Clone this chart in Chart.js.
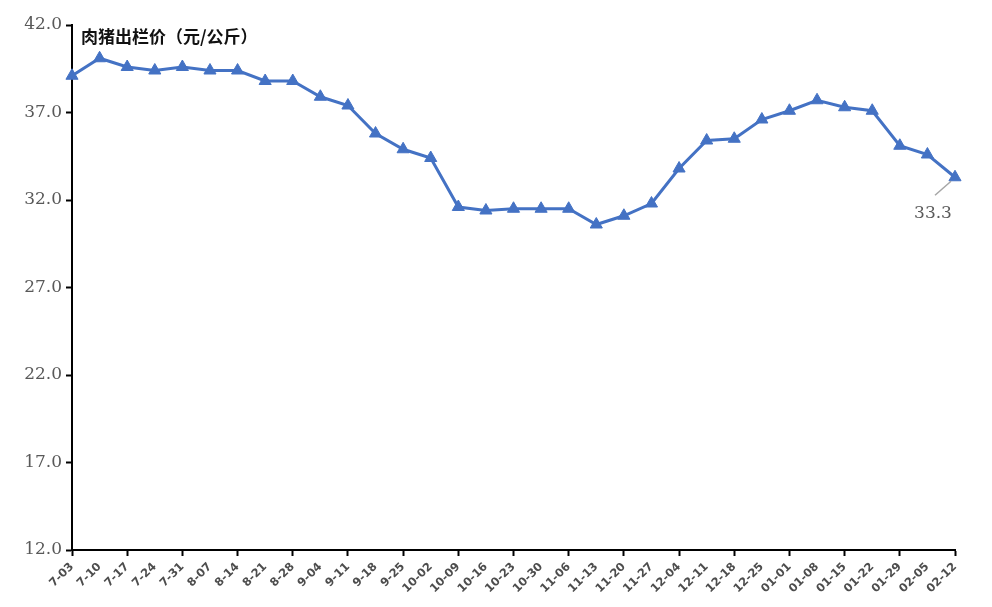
<!DOCTYPE html>
<html>
<head>
<meta charset="utf-8">
<script src="https://cdn.jsdelivr.net/npm/chart.js@4"></script>
<style>
html,body{margin:0;padding:0;background:#fff;}
#wrap{width:992px;height:607px;position:relative;}
</style>
</head>
<body>
<div id="wrap"><canvas id="c" width="992" height="607"></canvas></div>
<script>
const categories = ["7-03","7-10","7-17","7-24","7-31","8-07","8-14","8-21","8-28","9-04","9-11","9-18","9-25","10-02","10-09","10-16","10-23","10-30","11-06","11-13","11-20","11-27","12-04","12-11","12-18","12-25","01-01","01-08","01-15","01-22","01-29","02-05","02-12"];
const prices = [39.1,40.1,39.6,39.4,39.6,39.4,39.4,38.8,38.8,37.9,37.4,35.8,34.9,34.4,31.6,31.4,31.5,31.5,31.5,30.6,31.1,31.8,33.8,35.4,35.5,36.6,37.1,37.7,37.3,37.1,35.1,34.6,33.3];
const chartTitle = "肉猪出栏价（元/公斤）";
const yMin = 12, yMax = 42, yStep = 5;

const overlay = {
  id: 'overlay',
  afterDatasetsDraw(chart) {
    const ctx = chart.ctx;
    const area = chart.chartArea;
    ctx.save();
    ctx.font = 'bold 17px "Noto Sans CJK SC"';
    ctx.fillStyle = '#111';
    ctx.textAlign = 'left';
    ctx.textBaseline = 'middle';
    ctx.fillText(chartTitle, area.left + 9, area.top + 12);
    const meta = chart.getDatasetMeta(0);
    const last = meta.data[meta.data.length - 1];
    const px = last.x, py = last.y;
    ctx.strokeStyle = '#a6a6a6';
    ctx.lineWidth = 1.5;
    ctx.beginPath();
    ctx.moveTo(px - 4, py + 4);
    ctx.lineTo(px - 20, py + 18);
    ctx.stroke();
    ctx.font = '17px "DejaVu Serif"';
    ctx.fillStyle = '#595959';
    ctx.textAlign = 'center';
    ctx.fillText(prices[prices.length - 1].toFixed(1), px - 22, py + 36);
    ctx.restore();
  }
};

new Chart(document.getElementById('c'), {
  type: 'line',
  data: {
    labels: categories,
    datasets: [{
      data: prices,
      borderColor: '#4472C4',
      backgroundColor: '#4472C4',
      borderWidth: 3,
      pointStyle: 'triangle',
      pointRadius: 7,
      pointHoverRadius: 7,
      pointBackgroundColor: '#4472C4',
      pointBorderColor: '#4472C4',
      pointBorderWidth: 1,
      tension: 0
    }]
  },
  options: {
    responsive: false,
    animation: false,
    events: [],
    layout: { padding: { top: 25, right: 37, bottom: 0, left: 0 } },
    plugins: { legend: { display: false }, tooltip: { enabled: false }, title: { display: false } },
    scales: {
      x: {
        type: 'category',
        offset: false,
        afterFit(scale) { scale.height = 57; },
        border: { display: true, color: '#000', width: 2 },
        grid: {
          drawOnChartArea: false,
          drawTicks: true,
          tickLength: 6,
          tickWidth: 2,
          tickColor: (c) => (c.index % 2 === 0 ? '#000' : 'rgba(0,0,0,0)')
        },
        ticks: {
          autoSkip: false,
          maxRotation: 45,
          minRotation: 45,
          padding: 4,
          color: '#4d4d4d',
          font: { family: 'DejaVu Sans', size: 11.5, weight: 'bold' }
        }
      },
      y: {
        min: yMin,
        max: yMax,
        afterFit(scale) { scale.width = 72; },
        border: { display: true, color: '#000', width: 2 },
        grid: {
          drawOnChartArea: false,
          drawTicks: true,
          tickLength: 6,
          tickWidth: 2,
          tickColor: '#000'
        },
        ticks: {
          stepSize: yStep,
          padding: 4,
          color: '#595959',
          font: { family: 'DejaVu Serif', size: 17 },
          callback: (v) => Number(v).toFixed(1)
        }
      }
    }
  },
  plugins: [overlay]
});
</script>
</body>
</html>
